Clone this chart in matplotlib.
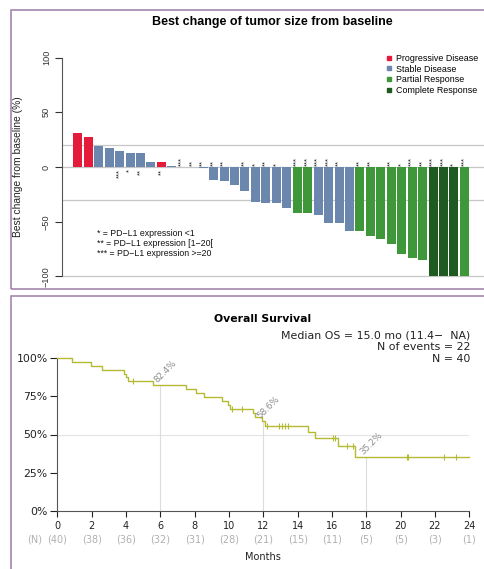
import numpy as np
import matplotlib
matplotlib.use("Agg")
from matplotlib import pyplot as plt
from matplotlib.lines import Line2D
from matplotlib.patches import Rectangle

W, H = 485, 569

# waterfall: best % change of tumor size, one bar per patient
best_change = [31, 27, 19.5, 17, 15, 12.5, 12.5, 4.5, 4.3, 1.2, 0, 0, -1, -11.5,
               -13, -16.7, -22, -32, -33, -33, -37, -42.4, -42.4, -44.2, -51.5,
               -51.5, -58.2, -58.2, -63.4, -65.5, -70.4, -79.9, -82.9, -85,
               -100, -100, -100, -100]
response = ["PD", "PD", "SD", "SD", "SD", "SD", "SD", "SD", "PD", "SD", "SD",
            "SD", "SD", "SD", "SD", "SD", "SD", "SD", "SD", "SD", "SD", "PR",
            "PR", "SD", "SD", "SD", "SD", "PR", "PR", "PR", "PR", "PR", "PR",
            "PR", "CR", "CR", "CR", "PR"]
pdl1_marks = ["", "", "", "", "***", "*", "**", "", "**", "", "***", "**", "**",
              "**", "**", "", "**", "*", "**", "*", "", "***", "***", "***",
              "***", "**", "", "**", "**", "", "**", "*", "***", "**", "***",
              "***", "*", "***"]
ref_lines = [20, 0, -30, -100]

response_order = ["PD", "SD", "PR", "CR"]
response_names = ["Progressive Disease", "Stable Disease", "Partial Response",
                  "Complete Response"]
response_colors = ["#e51b3b", "#6c87ae", "#3e983a", "#1f5a21"]
pdl1_legend = ["* = PD\u2212L1 expression <1",
               "** = PD\u2212L1 expression [1\u221220[",
               "*** = PD\u2212L1 expression >=20"]

# overall survival, steps
event_months = [0.84, 1.94, 2.58, 3.9, 4.0, 4.1, 5.59, 7.48, 8.08, 8.56, 9.57,
                9.96, 10.05, 11.38, 11.5, 11.9, 12.1, 14.6, 15.0, 16.37, 17.34]
surv_pct = [97.5, 95.0, 92.5, 90.0, 87.5, 85.0, 82.4, 79.8, 77.3, 74.7, 72.1,
            69.5, 67.0, 64.2, 61.4, 58.6, 55.8, 51.9, 47.6, 42.5, 35.2]
censor_months = [4.43, 10.2, 10.78, 12.2, 12.93, 13.1, 13.26, 13.45, 16.08,
                 16.2, 16.9, 17.2, 20.35, 20.42, 22.52, 23.22]
last_followup = 24
risk_months = [0, 2, 4, 6, 8, 10, 12, 14, 16, 18, 20, 22, 24]
n_at_risk = [40, 38, 36, 32, 31, 28, 21, 15, 11, 5, 5, 3, 1]
landmark_months = [6, 12, 18]
landmark_surv = [82.4, 58.6, 35.2]
surv_ticks = [0, 25, 50, 75, 100]


def px_axes(fig, left, top, right, bottom):
    return fig.add_axes([left / W, 1 - bottom / H, (right - left) / W, (bottom - top) / H])


def fxy(x, y):
    return x / W, 1 - y / H


fig = plt.figure(figsize=(W / 100, H / 100), dpi=100)
border = "#9c7ca3"
fig.add_artist(Rectangle(fxy(11, 289), (620 - 11) / W, (289 - 10) / H,
                         transform=fig.transFigure, fill=False, ec=border, lw=1.1))
fig.add_artist(Rectangle(fxy(11, 640), (620 - 11) / W, (640 - 296) / H,
                         transform=fig.transFigure, fill=False, ec=border, lw=1.1))

# -----------------------
# Waterfall plot
# -----------------------
top_font = "Liberation Sans"
ax1 = px_axes(fig, 62, 40, 485, 287)
xs = np.arange(len(best_change))
cmap = dict(zip(response_order, response_colors))
for yref in ref_lines:
    ax1.axhline(yref, color="#c6c6c6", lw=0.9, zorder=0)
ax1.bar(xs, best_change, width=0.86, color=[cmap[r] for r in response], zorder=2)

for xi, val, mark in zip(xs, best_change, pdl1_marks):
    if not mark:
        continue
    if val > 0:
        ax1.text(xi, -2.0, mark, rotation=90, ha="center", va="top",
                 fontsize=5.5, family=top_font, color="#222222")
    else:
        ax1.text(xi, 1.2, mark, rotation=90, ha="center", va="bottom",
                 fontsize=5.5, family=top_font, color="#222222")

ax1.set_xlim(-1.51, 38.97)
ax1.set_ylim(-109.6, 116.0)
for side in ["top", "right", "bottom"]:
    ax1.spines[side].set_visible(False)
ax1.spines["left"].set_bounds(-100, 100)
ax1.spines["left"].set_color("#555555")
ax1.set_xticks([])
ax1.set_yticks([-100, -50, 0, 50, 100])
ax1.tick_params(axis="y", length=5, width=0.8, pad=3, labelsize=6.6,
                colors="#333333")
for lab in ax1.get_yticklabels():
    lab.set_rotation(90)
    lab.set_va("center")
    lab.set_family(top_font)
ax1.set_ylabel("Best change from baseline (%)", fontsize=7.4, family=top_font,
               color="#222222")
ax1.yaxis.set_label_coords(-0.092, 0.486)

fig.text(*fxy(272, 22), "Best change of tumor size from baseline", ha="center",
         va="center", fontsize=9, fontweight="bold", family=top_font)

handles = [Line2D([], [], marker="s", ls="", color=c, markersize=3.2)
           for c in response_colors]
ax1.legend(handles, response_names, loc="upper left",
           bbox_to_anchor=fxy(386, 54), bbox_transform=fig.transFigure,
           frameon=False, handlelength=0.6, handletextpad=0.5,
           borderpad=0, borderaxespad=0, labelspacing=0.18,
           prop={"family": top_font, "size": 6.4})

for i, line in enumerate(pdl1_legend):
    fig.text(*fxy(97, 233 + 10.5 * i), line, ha="left", va="center",
             fontsize=6.3, family=top_font, color="#111111")

# -----------------------
# Overall survival
# -----------------------
bot_font = "DejaVu Sans"
curve_color = "#b5ba33"
ax2 = px_axes(fig, 57.3, 358.3, 469.3, 510.7)
ax2.set_xlim(0, 24)
ax2.set_ylim(0, 100)

ax2.axhline(50, color="#e4e4e4", lw=0.8, zorder=0)
ax2.vlines(landmark_months, 0, landmark_surv, color="#dcdcdc", lw=0.8, zorder=0)

step_x = [0] + event_months + [last_followup]
step_y = [100] + surv_pct + [surv_pct[-1]]
ax2.step(step_x, step_y, where="post", color=curve_color, lw=1.0,
         clip_on=False, zorder=3)
levels = np.array([100] + surv_pct)
censor_surv = levels[np.searchsorted(event_months, censor_months, side="right")]
ax2.plot(censor_months, censor_surv, ls="", marker="|", ms=5, mew=0.8,
         color=curve_color, clip_on=False, zorder=3)

for m, v in zip(landmark_months, landmark_surv):
    ax2.annotate(f"{v}%", (m, v), xytext=(3.6, 10.0), textcoords="offset points",
                 rotation=45, ha="center", va="center", fontsize=6.3,
                 family=bot_font, color="#8c8c8c")

for side in ["top", "right"]:
    ax2.spines[side].set_visible(False)
ax2.spines["left"].set_color("#555555")
ax2.spines["bottom"].set_color("#555555")
ax2.set_xticks(risk_months)
ax2.set_yticks(surv_ticks)
ax2.set_yticklabels([f"{t}%" for t in surv_ticks])
ax2.tick_params(axis="y", length=5, width=0.8, pad=2, labelsize=7.8,
                colors="#222222")
ax2.tick_params(axis="x", length=4.5, width=0.8, pad=3, labelsize=7,
                colors="#222222")
for lab in ax2.get_xticklabels() + ax2.get_yticklabels():
    lab.set_family(bot_font)

risk_y = (510.7 - 539.5) / 152.4
for m, n in zip(risk_months, n_at_risk):
    ax2.text(m, risk_y, f"({n})", transform=ax2.get_xaxis_transform(),
             ha="center", va="center", fontsize=7, family=bot_font,
             color="#b0b0b0")
ax2.text(-1.3, risk_y, "(N)", transform=ax2.get_xaxis_transform(),
         ha="center", va="center", fontsize=7, family=bot_font, color="#b0b0b0")
ax2.text(12, (510.7 - 556.7) / 152.4, "Months", transform=ax2.get_xaxis_transform(),
         ha="center", va="center", fontsize=7, family=bot_font, color="#222222")

fig.text(*fxy(263, 318.5), "Overall Survival", ha="center", va="center",
         fontsize=7.8, fontweight="bold", family=bot_font)
os_lines = ["Median OS = 15.0 mo (11.4\u2212  NA)", "N of events = 22", "N = 40"]
for i, line in enumerate(os_lines):
    fig.text(*fxy(470, 335 + 12.1 * i), line, ha="right", va="center",
             fontsize=7.9, family=bot_font, color="#222222")

fig.savefig("out.png", dpi=100)
plt.close(fig)
